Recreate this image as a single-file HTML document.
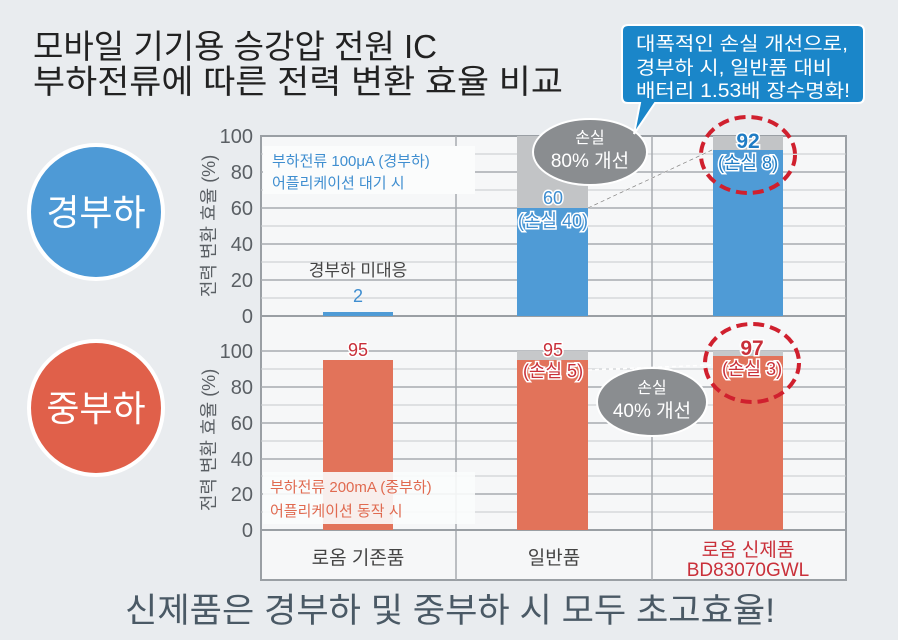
<!DOCTYPE html>
<html><head><meta charset="utf-8"><style>
html,body{margin:0;padding:0;background:#e9ecef}
svg{display:block;font-family:"Liberation Sans","Noto Sans CJK KR",sans-serif}
</style></head><body>
<svg width="898" height="640" viewBox="0 0 898 640" xmlns="http://www.w3.org/2000/svg">
<rect width="898" height="640" fill="#e9ecef"/>
<text x="33" y="58" font-size="33" fill="#222" textLength="404" lengthAdjust="spacingAndGlyphs">모바일 기기용 승강압 전원 IC</text>
<text x="33" y="93" font-size="33" fill="#222" textLength="530" lengthAdjust="spacingAndGlyphs">부하전류에 따른 전력 변환 효율 비교</text>

<rect x="261" y="136" width="585" height="444" fill="#f6f7f8" stroke="#9a9fa4" stroke-width="2"/>
<g stroke="#c6c9cc" stroke-width="1">
<line x1="261" x2="846" y1="154" y2="154"/><line x1="261" x2="846" y1="190" y2="190"/>
<line x1="261" x2="846" y1="226" y2="226"/><line x1="261" x2="846" y1="262" y2="262"/>
<line x1="261" x2="846" y1="298" y2="298"/>
<line x1="261" x2="846" y1="369" y2="369"/><line x1="261" x2="846" y1="405" y2="405"/>
<line x1="261" x2="846" y1="441" y2="441"/><line x1="261" x2="846" y1="476" y2="476"/>
<line x1="261" x2="846" y1="512" y2="512"/>
</g>
<g stroke="#a7abaf" stroke-width="1.5">
<line x1="261" x2="846" y1="172" y2="172"/><line x1="261" x2="846" y1="208" y2="208"/>
<line x1="261" x2="846" y1="244" y2="244"/><line x1="261" x2="846" y1="280" y2="280"/>
<line x1="261" x2="846" y1="351" y2="351"/><line x1="261" x2="846" y1="387" y2="387"/>
<line x1="261" x2="846" y1="423" y2="423"/><line x1="261" x2="846" y1="459" y2="459"/>
<line x1="261" x2="846" y1="494" y2="494"/>
<line x1="456" x2="456" y1="136" y2="580"/><line x1="652" x2="652" y1="136" y2="580"/>
</g>
<line x1="261" x2="846" y1="316" y2="316" stroke="#9a9fa4" stroke-width="2"/>
<line x1="261" x2="846" y1="530" y2="530" stroke="#9a9fa4" stroke-width="2"/>

<rect x="517" y="136" width="71" height="72" fill="#c2c4c6"/>
<rect x="713" y="136" width="70" height="14" fill="#c2c4c6"/>
<rect x="323" y="312" width="70" height="4" fill="#4f9bd6"/>
<rect x="517" y="208" width="71" height="108" fill="#4f9bd6"/>
<rect x="713" y="150" width="70" height="166" fill="#4f9bd6"/>
<rect x="517" y="351" width="71" height="9" fill="#c6c8ca"/>
<rect x="713" y="351" width="70" height="5" fill="#c6c8ca"/>
<rect x="323" y="360" width="70" height="170" fill="#e2735a"/>
<rect x="517" y="360" width="71" height="170" fill="#e2735a"/>
<rect x="713" y="356" width="70" height="174" fill="#e2735a"/>

<rect x="263" y="146" width="212" height="48" fill="#fbfcfc"/>
<text x="272" y="166" font-size="15" fill="#3f8ed0">부하전류 100μA (경부하)</text>
<text x="272" y="188" font-size="15" fill="#3f8ed0">어플리케이션 대기 시</text>
<rect x="263" y="472" width="212" height="52" fill="#fbfcfc" opacity="0.9"/>
<text x="270" y="492" font-size="15" fill="#e06a50">부하전류 200mA (중부하)</text>
<text x="270" y="516" font-size="15" fill="#e06a50">어플리케이션 동작 시</text>

<g font-size="20" fill="#5a5f64" text-anchor="end">
<text x="253" y="143">100</text><text x="253" y="179">80</text><text x="253" y="215">60</text>
<text x="253" y="251">40</text><text x="253" y="287">20</text><text x="253" y="323">0</text>
<text x="253" y="358">100</text><text x="253" y="394">80</text><text x="253" y="430">60</text>
<text x="253" y="466">40</text><text x="253" y="501">20</text><text x="253" y="537">0</text>
</g>
<text transform="translate(215,226) rotate(-90)" font-size="18" fill="#5a5f64" text-anchor="middle">전력 변환 효율 (%)</text>
<text transform="translate(215,440) rotate(-90)" font-size="18" fill="#5a5f64" text-anchor="middle">전력 변환 효율 (%)</text>

<circle cx="96" cy="212" r="67" fill="#4e9ad6" stroke="#fff" stroke-width="4"/>
<text x="96" y="225" font-size="36" fill="#fff" text-anchor="middle">경부하</text>
<circle cx="96" cy="408" r="67" fill="#e0604a" stroke="#fff" stroke-width="4"/>
<text x="96" y="421" font-size="36" fill="#fff" text-anchor="middle">중부하</text>

<text x="358" y="276" font-size="17" fill="#444" text-anchor="middle">경부하 미대응</text>
<text x="358" y="302" font-size="18" fill="#3f8ed0" text-anchor="middle">2</text>
<g font-size="18" text-anchor="middle" fill="#3f8ed0" stroke="#fff" stroke-width="3" paint-order="stroke">
<text x="553" y="204">60</text><text x="553" y="227">(손실 40)</text>
<text x="748" y="148" font-weight="bold" font-size="21" fill="#1f7cc4">92</text><text x="748" y="169" fill="#1f7cc4">(손실 8)</text>
</g>
<line x1="588" y1="208" x2="712" y2="150" stroke="#fff" stroke-width="1.5" stroke-dasharray="4,3"/>
<line x1="588" y1="208" x2="712" y2="150" stroke="#888" stroke-width="0.8" stroke-dasharray="4,3"/>
<ellipse cx="748" cy="155" rx="47" ry="38" fill="none" stroke="#d0202e" stroke-width="4" stroke-dasharray="11,6"/>

<ellipse cx="590" cy="152" rx="57" ry="33" fill="#8a8d90" stroke="#fff" stroke-width="2"/>
<text x="590" y="143" font-size="16" fill="#fff" text-anchor="middle">손실</text>
<text x="590" y="167" font-size="19" fill="#fff" text-anchor="middle">80% 개선</text>

<path d="M628,25 H858 Q864,25 864,31 V97 Q864,103 858,103 H655 L634,134 L640,103 H628 Q622,103 622,97 V31 Q622,25 628,25 Z" fill="#1a86c9" stroke="#fff" stroke-width="2"/>
<text x="636" y="50" font-size="19" fill="#fff" textLength="212" lengthAdjust="spacingAndGlyphs">대폭적인 손실 개선으로,</text>
<text x="636" y="74" font-size="19" fill="#fff" textLength="196" lengthAdjust="spacingAndGlyphs">경부하 시, 일반품 대비</text>
<text x="636" y="97" font-size="19" fill="#fff" textLength="214" lengthAdjust="spacingAndGlyphs">배터리 1.53배 장수명화!</text>

<g font-size="18" text-anchor="middle" fill="#c9303a" stroke="#fff" stroke-width="3" paint-order="stroke">
<text x="358" y="356">95</text>
<text x="553" y="356">95</text><text x="553" y="377">(손실 5)</text>
<text x="752" y="355" font-weight="bold" font-size="21">97</text><text x="752" y="375">(손실 3)</text>
</g>
<line x1="588" y1="370" x2="712" y2="365" stroke="#fff" stroke-width="1.5" stroke-dasharray="4,3"/>
<ellipse cx="752" cy="363" rx="47" ry="39" fill="none" stroke="#d0202e" stroke-width="4" stroke-dasharray="11,6"/>
<ellipse cx="652" cy="402" rx="55" ry="34" fill="#8a8d90" stroke="#fff" stroke-width="2"/>
<text x="652" y="393" font-size="16" fill="#fff" text-anchor="middle">손실</text>
<text x="652" y="417" font-size="19" fill="#fff" text-anchor="middle">40% 개선</text>

<text x="358" y="564" font-size="19" fill="#444" text-anchor="middle">로옴 기존품</text>
<text x="554" y="564" font-size="19" fill="#444" text-anchor="middle">일반품</text>
<text x="748" y="556" font-size="19" fill="#c9303a" text-anchor="middle">로옴 신제품</text>
<text x="748" y="576" font-size="19" fill="#c9303a" text-anchor="middle">BD83070GWL</text>

<text x="450" y="622" font-size="34" fill="#4a5965" text-anchor="middle" textLength="650" lengthAdjust="spacingAndGlyphs">신제품은 경부하 및 중부하 시 모두 초고효율!</text>
</svg>
</body></html>
